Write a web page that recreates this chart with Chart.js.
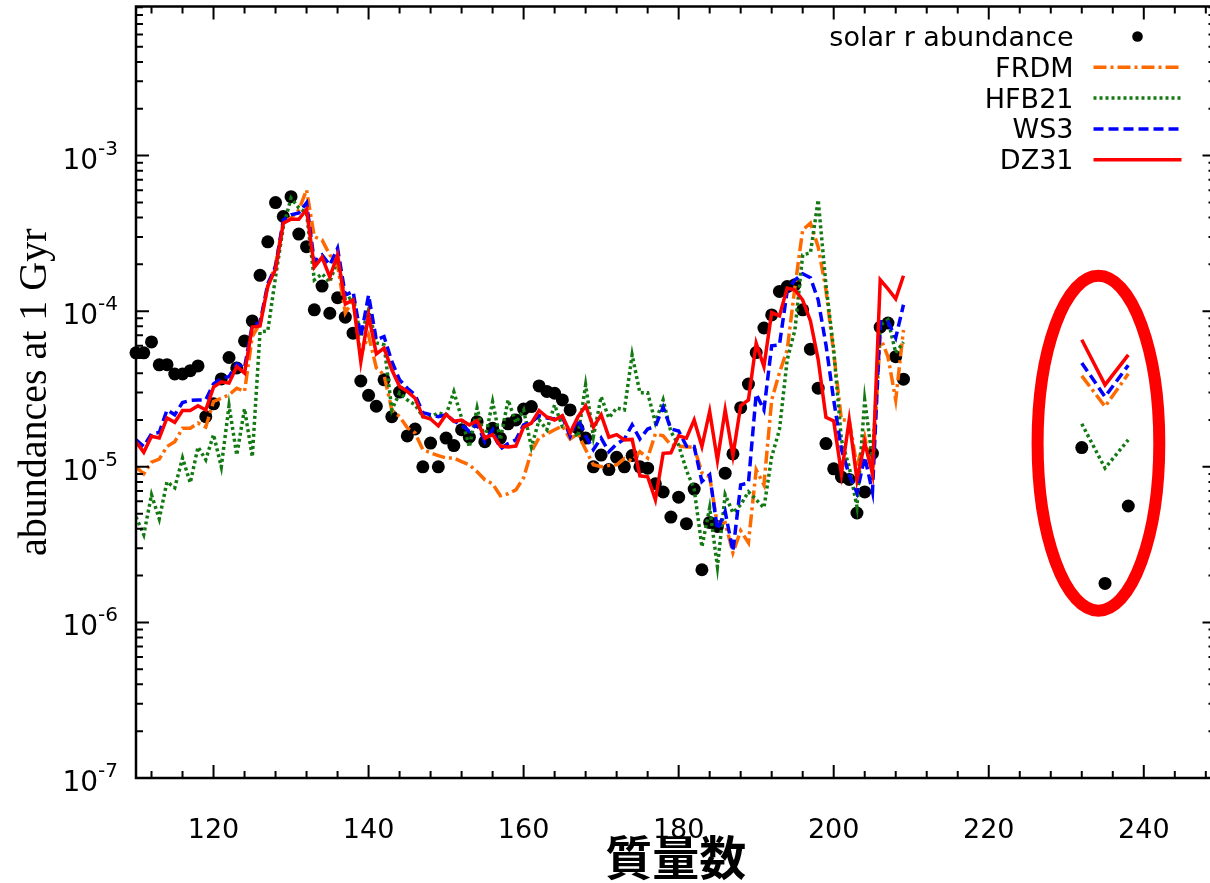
<!DOCTYPE html>
<html lang="ja">
<head>
<meta charset="utf-8">
<title>r-process abundances at 1 Gyr</title>
<script src="https://cdn.jsdelivr.net/npm/chart.js@4.4.1/dist/chart.umd.min.js"></script>
<style>
html, body { margin: 0; padding: 0; background: #fff; overflow: hidden; }
canvas { display: block; }
</style>
</head>
<body>
<canvas id="abundance" width="1222" height="883"></canvas>
<script>
// Mass numbers of the main r-process region
const massNumbers = [
  110, 111, 112, 113, 114, 115, 116, 117, 118, 119,
  120, 121, 122, 123, 124, 125, 126, 127, 128, 129,
  130, 131, 132, 133, 134, 135, 136, 137, 138, 139,
  140, 141, 142, 143, 144, 145, 146, 147, 148, 149,
  150, 151, 152, 153, 154, 155, 156, 157, 158, 159,
  160, 161, 162, 163, 164, 165, 166, 167, 168, 169,
  170, 171, 172, 173, 174, 175, 176, 177, 178, 179,
  180, 181, 182, 183, 184, 185, 186, 187, 188, 189,
  190, 191, 192, 193, 194, 195, 196, 197, 198, 199,
  200, 201, 202, 203, 204, 205, 206, 207, 208, 209
];

// Solar r-process abundances
const solarR = [
  5.4e-5, 5.4e-5, 6.35e-5, 4.52e-5, 4.53e-5, 3.95e-5, 3.95e-5, 4.15e-5, 4.45e-5, 2.1e-5,
  2.54e-5, 3.67e-5, 5.04e-5, 4.32e-5, 6.44e-5, 8.66e-5, 1.70e-4, 2.79e-4, 4.99e-4, 4.06e-4,
  5.45e-4, 3.13e-4, 2.60e-4, 1.02e-4, 1.45e-4, 9.7e-5, 1.22e-4, 9.15e-5, 7.23e-5, 3.56e-5,
  2.88e-5, 2.45e-5, 3.62e-5, 2.1e-5, 3.02e-5, 1.58e-5, 1.75e-5, 1.0e-5, 1.42e-5, 1.0e-5,
  1.53e-5, 1.37e-5, 1.73e-5, 1.55e-5, 1.95e-5, 1.45e-5, 1.77e-5, 1.53e-5, 1.89e-5, 2.0e-5,
  2.35e-5, 2.44e-5, 3.31e-5, 3.05e-5, 2.97e-5, 2.69e-5, 2.32e-5, 1.77e-5, 1.53e-5, 1.0e-5,
  1.19e-5, 9.6e-6, 1.15e-5, 1.0e-5, 1.18e-5, 1.0e-5, 9.8e-6, 7.78e-6, 6.89e-6, 4.75e-6,
  6.38e-6, 4.31e-6, 7.19e-6, 2.18e-6, 4.39e-6, 4.14e-6, 9.1e-6, 1.21e-5, 2.4e-5, 3.4e-5,
  5.42e-5, 7.8e-5, 9.46e-5, 1.34e-4, 1.44e-4, 1.48e-4, 1.02e-4, 5.7e-5, 3.2e-5, 1.41e-5,
  9.7e-6, 8.6e-6, 8.3e-6, 5.05e-6, 6.9e-6, 1.22e-5, 7.9e-5, 8.4e-5, 5.1e-5, 3.66e-5
];

// FRDM mass model
const frdm = [
  1.00e-5, 9.0e-6, 1.07e-5, 1.12e-5, 1.35e-5, 1.45e-5, 1.77e-5, 1.77e-5, 1.91e-5, 1.80e-5,
  2.63e-5, 2.76e-5, 2.90e-5, 3.20e-5, 3.05e-5, 6.87e-5, 8.37e-5, 1.44e-4, 1.98e-4, 3.75e-4,
  3.97e-4, 4.47e-4, 6.01e-4, 3.01e-4, 2.87e-4, 2.30e-4, 1.98e-4, 9.75e-5, 1.18e-4, 5.24e-5,
  7.0e-5, 4.32e-5, 3.90e-5, 2.32e-5, 2.10e-5, 1.78e-5, 1.65e-5, 1.29e-5, 1.23e-5, 1.18e-5,
  1.14e-5, 1.14e-5, 1.08e-5, 1.03e-5, 9.29e-6, 8.25e-6, 7.78e-6, 6.51e-6, 6.71e-6, 7.11e-6,
  8.5e-6, 1.25e-5, 1.54e-5, 1.63e-5, 1.73e-5, 1.83e-5, 1.51e-5, 1.63e-5, 1.29e-5, 1.03e-5,
  1.0e-5, 1.02e-5, 1.03e-5, 1.13e-5, 1.09e-5, 1.25e-5, 1.14e-5, 1.63e-5, 1.58e-5, 1.38e-5,
  1.36e-5, 1.34e-5, 1.34e-5, 9.15e-6, 8.63e-6, 4.24e-6, 4.37e-6, 2.80e-6, 3.88e-6, 3.25e-6,
  9.57e-6, 7.66e-6, 2.69e-5, 4.02e-5, 5.64e-5, 1.43e-4, 3.33e-4, 3.69e-4, 2.59e-4, 1.37e-4,
  5.40e-5, 2.00e-5, 2.00e-5, 1.0e-5, 1.56e-5, 9.15e-6, 6.84e-5, 5.09e-5, 2.69e-5, 7.58e-5
];

// HFB21 mass model
const hfb21 = [
  4.77e-6, 3.66e-6, 6.61e-6, 4.63e-6, 8.01e-6, 7.33e-6, 1.14e-5, 7.89e-6, 1.34e-5, 1.11e-5,
  1.61e-5, 1.0e-5, 2.47e-5, 1.19e-5, 2.36e-5, 1.16e-5, 7.36e-5, 7.47e-5, 1.66e-4, 3.48e-4,
  5.34e-4, 4.61e-4, 4.28e-4, 1.59e-4, 1.74e-4, 1.54e-4, 2.14e-4, 1.18e-4, 1.24e-4, 6.84e-5,
  1.02e-4, 6.26e-5, 6.08e-5, 2.32e-5, 2.99e-5, 2.69e-5, 2.50e-5, 2.10e-5, 2.10e-5, 2.22e-5,
  2.16e-5, 3.03e-5, 2.06e-5, 1.34e-5, 2.39e-5, 1.49e-5, 2.62e-5, 1.49e-5, 2.69e-5, 1.92e-5,
  2.32e-5, 1.34e-5, 2.0e-5, 1.73e-5, 2.5e-5, 1.81e-5, 1.78e-5, 1.56e-5, 3.36e-5, 1.56e-5,
  2.82e-5, 2.06e-5, 2.39e-5, 2.32e-5, 5.24e-5, 2.99e-5, 2.99e-5, 1.92e-5, 2.69e-5, 1.68e-5,
  1.38e-5, 9.5e-6, 7.2e-6, 3.06e-6, 5.45e-6, 2.28e-6, 6.61e-6, 5.07e-6, 5.70e-6, 6.91e-6,
  6.14e-6, 5.45e-6, 1.16e-5, 1.73e-5, 4.87e-5, 7.58e-5, 2.30e-4, 2.37e-4, 5.19e-4, 1.48e-4,
  5.64e-5, 1.49e-5, 1.0e-5, 5.53e-6, 2.69e-5, 1.11e-5, 8.17e-5, 8.79e-5, 5.40e-5, 6.35e-5
];

// WS3 mass model
const ws3 = [
  1.49e-5, 1.35e-5, 1.63e-5, 1.66e-5, 2.32e-5, 2.16e-5, 2.59e-5, 2.67e-5, 2.69e-5, 2.69e-5,
  3.41e-5, 3.71e-5, 3.80e-5, 4.59e-5, 4.32e-5, 8.17e-5, 8.41e-5, 1.50e-4, 1.93e-4, 3.86e-4,
  4.16e-4, 4.28e-4, 4.96e-4, 2.08e-4, 2.30e-4, 1.98e-4, 2.54e-4, 1.27e-4, 1.34e-4, 6.87e-5,
  1.27e-4, 6.54e-5, 6.87e-5, 4.75e-5, 3.62e-5, 3.20e-5, 2.90e-5, 2.23e-5, 2.16e-5, 2.10e-5,
  2.16e-5, 1.97e-5, 1.86e-5, 1.69e-5, 1.89e-5, 1.45e-5, 1.73e-5, 1.30e-5, 1.41e-5, 1.49e-5,
  1.86e-5, 1.93e-5, 2.13e-5, 2.06e-5, 2.03e-5, 2.10e-5, 1.57e-5, 2.03e-5, 1.58e-5, 1.29e-5,
  1.53e-5, 1.25e-5, 1.40e-5, 1.51e-5, 1.86e-5, 1.51e-5, 1.75e-5, 1.82e-5, 2.42e-5, 1.75e-5,
  1.70e-5, 1.36e-5, 1.35e-5, 8.04e-6, 8.89e-6, 3.94e-6, 5.16e-6, 2.86e-6, 7.66e-6, 7.86e-6,
  2.94e-5, 2.32e-5, 5.99e-5, 6.08e-5, 1.35e-4, 1.59e-4, 1.74e-4, 1.64e-4, 1.18e-4, 6.08e-5,
  2.69e-5, 1.29e-5, 8.89e-6, 6.81e-6, 1.16e-5, 6.91e-6, 8.54e-5, 8.54e-5, 6.74e-5, 1.10e-4
];

// DZ31 mass model
const dz31 = [
  1.45e-5, 1.24e-5, 1.57e-5, 1.53e-5, 2.06e-5, 1.93e-5, 2.30e-5, 2.30e-5, 2.47e-5, 2.32e-5,
  3.25e-5, 3.52e-5, 3.45e-5, 4.41e-5, 4.00e-5, 7.90e-5, 8.05e-5, 1.45e-4, 1.86e-4, 3.68e-4,
  3.90e-4, 3.90e-4, 4.51e-4, 1.92e-4, 2.22e-4, 1.66e-4, 2.30e-4, 1.11e-4, 1.18e-4, 4.73e-5,
  9.47e-5, 5.32e-5, 5.79e-5, 4.20e-5, 3.28e-5, 3.05e-5, 2.76e-5, 2.10e-5, 2.03e-5, 1.83e-5,
  2.17e-5, 1.96e-5, 2.00e-5, 1.86e-5, 1.98e-5, 1.53e-5, 1.61e-5, 1.36e-5, 1.34e-5, 1.36e-5,
  1.80e-5, 1.91e-5, 2.30e-5, 2.09e-5, 2.00e-5, 2.13e-5, 1.65e-5, 2.09e-5, 2.47e-5, 1.80e-5,
  2.16e-5, 1.55e-5, 1.61e-5, 1.49e-5, 1.50e-5, 8.75e-6, 8.63e-6, 6.14e-6, 1.22e-5, 1.23e-5,
  1.58e-5, 1.53e-5, 2.00e-5, 1.35e-5, 2.27e-5, 1.10e-5, 2.32e-5, 1.18e-5, 2.47e-5, 2.69e-5,
  6.23e-5, 4.41e-5, 9.80e-5, 9.33e-5, 1.41e-4, 1.37e-4, 1.18e-4, 8.66e-5, 4.87e-5, 2.08e-5,
  1.97e-5, 9.02e-6, 2.00e-5, 8.25e-6, 1.43e-5, 9.02e-6, 1.59e-4, 1.39e-4, 1.20e-4, 1.69e-4
];

// Th / U chronometer nuclei
const actinideMass = [232, 235, 238];
const solarRAct = [1.33e-5, 1.78e-6, 5.6e-6];
const frdmAct   = [3.84e-5, 2.44e-5, 3.96e-5];
const hfb21Act  = [1.89e-5, 9.8e-6, 1.49e-5];
const ws3Act    = [4.65e-5, 2.82e-5, 4.5e-5];
const dz31Act   = [6.55e-5, 3.36e-5, 5.24e-5];

// Axis ticks
const xTickLabels = [120, 140, 160, 180, 200, 220, 240];
const yTickExponents = [-7, -6, -5, -4, -3];

// Highlight around the actinides (data coordinates)
const highlight = { xMin: 226.3, xMax: 242.0, yMin: 1.19e-6, yMax: 1.687e-4 };

function toPoints(values, actValues) {
  const pts = massNumbers.map((m, i) => ({ x: m, y: values[i] }));
  // null point breaks the line between the two mass regions
  pts.push({ x: massNumbers[massNumbers.length - 1] + 1, y: null });
  actinideMass.forEach((m, i) => pts.push({ x: m, y: actValues[i] }));
  return pts;
}

const datasets = [
  { label: 'solar r abundance', data: toPoints(solarR, solarRAct), showLine: false,
    pointRadius: 6.5, pointBackgroundColor: '#000', pointBorderWidth: 0, order: 5, clip: false },
  { label: 'FRDM', data: toPoints(frdm, frdmAct), borderColor: '#ff6a00', borderWidth: 3.5,
    borderDash: [13, 4, 3, 4], pointRadius: 0, order: 4 },
  { label: 'HFB21', data: toPoints(hfb21, hfb21Act), borderColor: '#137a13', borderWidth: 3.5,
    borderDash: [3, 3], pointRadius: 0, order: 3 },
  { label: 'WS3', data: toPoints(ws3, ws3Act), borderColor: '#0000ff', borderWidth: 3.5,
    borderDash: [10, 5], pointRadius: 0, order: 2 },
  { label: 'DZ31', data: toPoints(dz31, dz31Act), borderColor: '#ff0000', borderWidth: 3.5,
    pointRadius: 0, order: 1 }
];
datasets.forEach(d => { d.borderCapStyle = 'butt'; d.borderJoinStyle = 'miter'; d.tension = 0; d.spanGaps = false; });

// Frame, inward tick marks, ellipse, y labels and key
const decorations = {
  id: 'decorations',
  afterDatasetsDraw(chart) {
    const { ctx, chartArea: a, scales: { x, y } } = chart;
    ctx.save();

    // red ellipse around the Th/U group
    const cx = (x.getPixelForValue(highlight.xMin) + x.getPixelForValue(highlight.xMax)) / 2;
    const rx = (x.getPixelForValue(highlight.xMax) - x.getPixelForValue(highlight.xMin)) / 2;
    const yt = y.getPixelForValue(highlight.yMax), yb = y.getPixelForValue(highlight.yMin);
    ctx.beginPath();
    ctx.ellipse(cx, (yt + yb) / 2, rx, (yb - yt) / 2, 0, 0, Math.PI * 2);
    ctx.strokeStyle = '#ff0000';
    ctx.lineWidth = 12;
    ctx.stroke();

    // frame
    ctx.strokeStyle = '#000';
    ctx.lineWidth = 2.5;
    ctx.strokeRect(a.left, a.top, a.right - a.left, a.bottom - a.top);

    const major = 13, minor = 7;
    ctx.lineWidth = 2;
    ctx.beginPath();
    // x ticks every 4, long every 20
    for (let v = Math.ceil(x.min / 4) * 4; v <= x.max; v += 4) {
      const px = x.getPixelForValue(v);
      const len = v % 20 === 0 ? major : minor;
      ctx.moveTo(px, a.bottom); ctx.lineTo(px, a.bottom - len);
      ctx.moveTo(px, a.top); ctx.lineTo(px, a.top + len);
    }
    // y ticks: decades long, 2..9 short
    for (let e = -7; e <= -2; e++) {
      for (let m = 1; m <= 9; m++) {
        const v = m * Math.pow(10, e);
        if (v < y.min * 0.999 || v > y.max) continue;
        const py = y.getPixelForValue(v);
        const len = m === 1 ? major : minor;
        ctx.moveTo(a.left, py); ctx.lineTo(a.left + len, py);
        ctx.moveTo(a.right, py); ctx.lineTo(a.right - len, py);
      }
    }
    ctx.stroke();
    ctx.restore();
  },
  afterDraw(chart) {
    const { ctx, chartArea: a, scales: { y } } = chart;
    ctx.save();
    ctx.fillStyle = '#000';
    ctx.textBaseline = 'alphabetic';

    // y tick labels as 10 with a raised exponent
    yTickExponents.forEach(ex => {
      const py = y.getPixelForValue(Math.pow(10, ex));
      const sup = String(ex);
      ctx.font = '20px "DejaVu Sans"';
      const sw = ctx.measureText(sup).width;
      const supLeft = a.left - 18 - sw;
      ctx.textAlign = 'left';
      ctx.fillText(sup, supLeft, py - 1);
      ctx.font = '28px "DejaVu Sans"';
      ctx.textAlign = 'right';
      ctx.fillText('10', supLeft, py + 13);
    });

    // key in the upper right corner
    const textRight = a.right - 142, sampleL = a.right - 122, sampleR = a.right - 34;
    let rowY = a.top + 30;
    ctx.font = '27px "DejaVu Sans"';
    chart.data.datasets.forEach(ds => {
      ctx.textAlign = 'right';
      ctx.fillStyle = '#000';
      ctx.fillText(ds.label, textRight, rowY + 9.5);
      if (ds.showLine === false) {
        ctx.beginPath();
        ctx.arc((sampleL + sampleR) / 2, rowY, 5.3, 0, Math.PI * 2);
        ctx.fill();
      } else {
        ctx.beginPath();
        ctx.setLineDash(ds.borderDash || []);
        ctx.strokeStyle = ds.borderColor;
        ctx.lineWidth = ds.borderWidth;
        ctx.lineCap = 'butt';
        ctx.moveTo(sampleL, rowY);
        ctx.lineTo(sampleR, rowY);
        ctx.stroke();
        ctx.setLineDash([]);
      }
      rowY += 30.8;
    });
    ctx.restore();
  }
};

new Chart(document.getElementById('abundance'), {
  type: 'line',
  data: { datasets },
  options: {
    responsive: false,
    animation: false,
    devicePixelRatio: 1,
    layout: { padding: { top: 6, right: 3, left: 0, bottom: 0 } },
    plugins: { legend: { display: false }, tooltip: { enabled: false } },
    scales: {
      x: {
        type: 'linear', position: 'bottom', min: 110, max: 249.25,
        grid: { display: false, drawTicks: false },
        border: { display: false },
        afterBuildTicks: s => { s.ticks = xTickLabels.map(v => ({ value: v })); },
        afterFit: s => { s.height = 105; },
        ticks: {
          autoSkip: false, maxRotation: 0, padding: 37, color: '#000',
          font: { family: '"DejaVu Sans"', size: 27 },
          callback: v => String(v)
        },
        title: {
          display: true, text: '質量数', color: '#000',
          font: { family: '"Noto Sans CJK JP"', size: 47, weight: 'bold', lineHeight: 1 },
          padding: { top: 0, bottom: 2 }
        }
      },
      y: {
        type: 'logarithmic', position: 'left', min: 1e-7, max: 9.085e-3,
        grid: { display: false, drawTicks: false },
        border: { display: false },
        ticks: { display: false },
        afterFit: s => { s.width = 136; },
        title: {
          display: true, text: 'abundances at 1 Gyr', color: '#000',
          font: { family: '"Liberation Serif"', size: 40, lineHeight: 1 },
          padding: { top: 15, bottom: 0 }
        }
      }
    }
  }
  ,
  plugins: [decorations]
});
</script>
</body>
</html>
